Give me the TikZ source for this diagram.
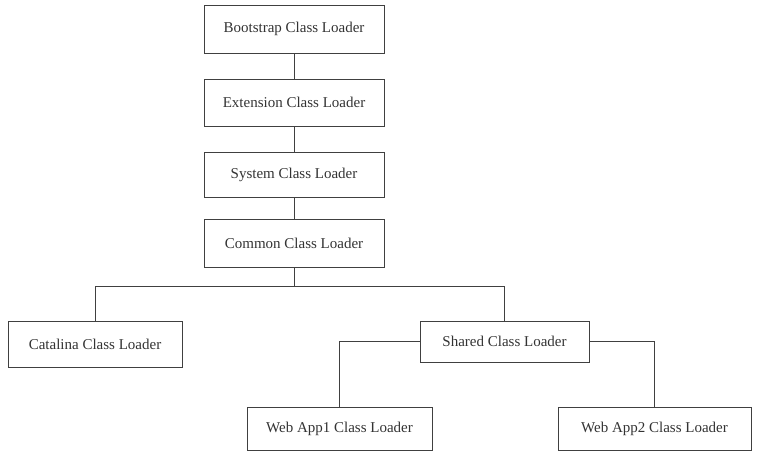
\documentclass[tikz,border=0pt]{standalone}
\usepackage{fontspec}
\setmainfont{Liberation Serif}
\begin{document}
\begin{tikzpicture}[x=1pt,y=-1pt,
  box/.style={draw=black!75, line width=0.9pt, inner sep=0pt, text=black!80, font=\fontsize{15}{18}\selectfont},
  link/.style={draw=black!75, line width=0.9pt}]
\useasboundingbox (0,0) rectangle (779,461);
\node[box, minimum width=180pt, minimum height=48pt] (boot) at (294,29) {Bootstrap Class Loader};
\node[box, minimum width=180pt, minimum height=47pt] (ext) at (294,102.5) {Extension Class Loader};
\node[box, minimum width=180pt, minimum height=45pt] (sys) at (294,174.5) {System Class Loader};
\node[box, minimum width=180pt, minimum height=48pt] (com) at (294,243) {Common Class Loader};
\node[box, minimum width=174pt, minimum height=46pt] (cat) at (95,344) {Catalina Class Loader};
\node[box, minimum width=169pt, minimum height=41pt] (shr) at (504.5,341.5) {Shared Class Loader};
\node[box, minimum width=185pt, minimum height=43pt] (web1) at (339.5,428.5) {Web App1 Class Loader};
\node[box, minimum width=193pt, minimum height=43pt] (web2) at (654.5,428.5) {Web App2 Class Loader};
\coordinate (j) at (294,286);
\draw[link] (boot.south) -- (ext.north);
\draw[link] (ext.south) -- (sys.north);
\draw[link] (sys.south) -- (com.north);
\draw[link] (com.south) -- (j);
\draw[link] (j) -| (cat.north);
\draw[link] (j) -| (shr.north);
\draw[link] (shr.west) -| (web1.north);
\draw[link] (shr.east) -| (web2.north);
\end{tikzpicture}
\end{document}
